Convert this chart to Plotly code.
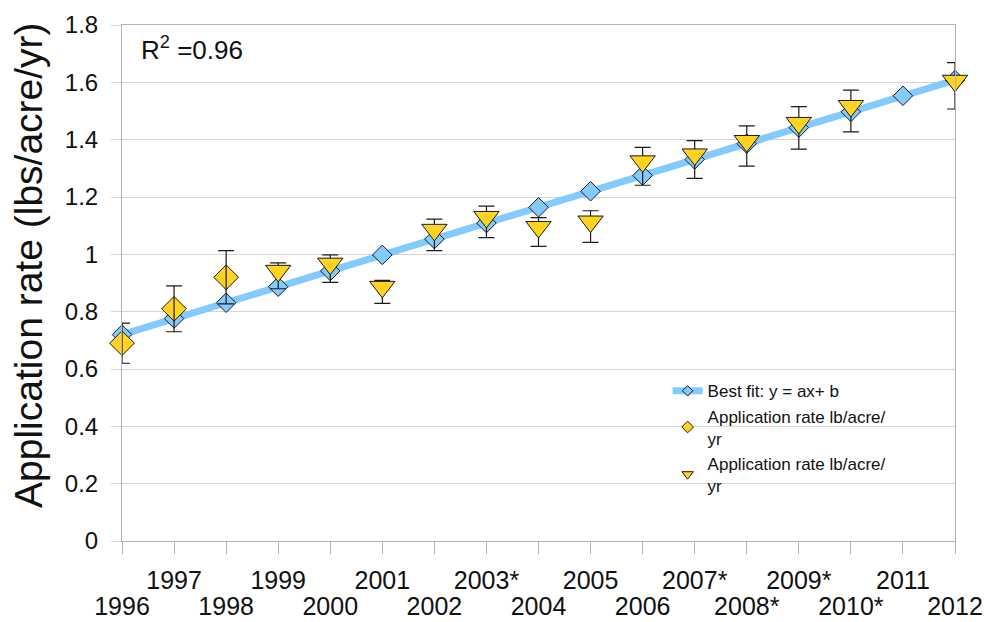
import plotly.graph_objects as go

# ---- data -------------------------------------------------------------
years = list(range(1996, 2013))
year_labels = ["1996", "1997", "1998", "1999", "2000", "2001", "2002", "2003*",
               "2004", "2005", "2006", "2007*", "2008*", "2009*", "2010*",
               "2011", "2012"]

# linear best fit (y = ax + b) evaluated at each year
best_fit = [0.720, 0.776, 0.831, 0.887, 0.942, 0.998, 1.053, 1.109, 1.164,
            1.220, 1.275, 1.331, 1.386, 1.442, 1.497, 1.553, 1.608]

# application rate, first survey method (diamonds)
diam_years = [1996, 1997, 1998]
diam_rate = [0.69, 0.81, 0.92]
diam_err = [0.07, 0.08, 0.093]

# application rate, second survey method (triangles)
tri_years = [1999, 2000, 2001, 2002, 2003, 2004, 2005, 2006, 2007, 2008,
             2009, 2010, 2012]
tri_rate = [0.925, 0.950, 0.869, 1.068, 1.113, 1.078, 1.097, 1.307, 1.331,
            1.378, 1.441, 1.500, 1.588]
tri_err = [0.045, 0.048, 0.040, 0.055, 0.055, 0.050, 0.055, 0.066, 0.066,
           0.070, 0.074, 0.073, 0.081]

r_squared = 0.96
legend_fit = "Best fit: y = ax+ b"
legend_rate = "Application rate lb/acre/<br>yr"

# ---- styling ----------------------------------------------------------
FONT = "Liberation Sans, Arial, sans-serif"
BLUE = "#83CAFF"
GOLD = "#FFD320"
EDGE = "#1a1a1a"
AXIS = "#b3b3b3"
GRID = "#d4d4d4"
TXT = "#111111"

Y_RANGE = [0, 1.8]
PLOT_H = 622 - 25 - 81
# plotly anchors triangle-down on its centroid; shift the glyph up ~5 px so
# its bounding box is centred on the value, like the error bar
tri_shift = 5 * (Y_RANGE[1] - Y_RANGE[0]) / PLOT_H

fig = go.Figure()

fig.add_trace(go.Scatter(
    x=years, y=best_fit, mode="lines+markers", showlegend=False,
    line=dict(color=BLUE, width=7),
    marker=dict(symbol="diamond", size=15, color=BLUE,
                line=dict(color=EDGE, width=1)),
    cliponaxis=False,
))

fig.add_trace(go.Scatter(
    x=diam_years, y=diam_rate, mode="markers", showlegend=False,
    marker=dict(symbol="diamond", size=19, color=GOLD,
                line=dict(color=EDGE, width=1)),
    cliponaxis=False,
))

fig.add_trace(go.Scatter(
    x=tri_years, y=tri_rate, mode="markers", showlegend=False, yaxis="y2",
    marker=dict(symbol="triangle-down", size=22, color=GOLD,
                line=dict(color=EDGE, width=1)),
    cliponaxis=False,
))

# error bars drawn last so the whiskers sit on top of the markers
for xs, ys, es in [(diam_years, diam_rate, diam_err),
                   (tri_years, tri_rate, tri_err)]:
    fig.add_trace(go.Scatter(
        x=xs, y=ys, mode="markers", showlegend=False, hoverinfo="skip",
        marker=dict(size=1, opacity=0),
        error_y=dict(type="data", array=es, visible=True,
                     color=EDGE, thickness=1.2, width=8),
        cliponaxis=False,
    ))

# legend entries with small symbols
fig.add_trace(go.Scatter(
    x=[None], y=[None], mode="lines+markers", name=legend_fit,
    line=dict(color=BLUE, width=7),
    marker=dict(symbol="diamond", size=8, color=BLUE,
                line=dict(color=EDGE, width=1)),
))
fig.add_trace(go.Scatter(
    x=[None], y=[None], mode="markers", name=legend_rate,
    marker=dict(symbol="diamond", size=9, color=GOLD,
                line=dict(color=EDGE, width=1)),
))
fig.add_trace(go.Scatter(
    x=[None], y=[None], mode="markers", name=legend_rate,
    marker=dict(symbol="triangle-down", size=10, color=GOLD,
                line=dict(color=EDGE, width=1)),
))

# a dummy trace so the second label axis is rendered
fig.add_trace(go.Scatter(x=[years[0]], y=[None], xaxis="x2",
                         showlegend=False, hoverinfo="skip"))

# staggered year labels: odd positions on the first row, even on the second
row1 = [t if i % 2 == 1 else "" for i, t in enumerate(year_labels)]
row2 = [t if i % 2 == 0 else "" for i, t in enumerate(year_labels)]

fig.update_layout(
    width=991, height=622,
    margin=dict(l=122, r=36, t=25, b=81),
    paper_bgcolor="white", plot_bgcolor="white",
    font=dict(family=FONT, color=TXT),
    showlegend=True,
    legend=dict(
        x=0.655, y=0.325, xanchor="left", yanchor="top",
        bgcolor="rgba(0,0,0,0)", borderwidth=0,
        font=dict(size=17, family=FONT, color=TXT),
        itemsizing="trace", tracegroupgap=0,
    ),
    xaxis=dict(
        range=[1996, 2012], showgrid=False, zeroline=False, automargin=False,
        showline=True, linecolor=AXIS, linewidth=1, mirror=True,
        ticks="outside", ticklen=12, tickcolor=AXIS,
        tickvals=years, ticktext=row1,
        tickfont=dict(size=25, family=FONT, color=TXT),
        ticklabelstandoff=5,
    ),
    xaxis2=dict(
        range=[1996, 2012], overlaying="x", side="bottom", anchor="y",
        showgrid=False, zeroline=False, showline=False, ticks="",
        automargin=False,
        tickvals=years, ticktext=row2,
        tickfont=dict(size=25, family=FONT, color=TXT),
        ticklabelstandoff=48,
    ),
    yaxis=dict(
        range=Y_RANGE, dtick=0.2, tick0=0, automargin=False,
        showgrid=True, gridcolor=GRID, gridwidth=1, zeroline=False,
        showline=True, linecolor=AXIS, linewidth=1, mirror=True,
        ticks="outside", ticklen=10, tickcolor=GRID,
        tickfont=dict(size=24, family=FONT, color=TXT),
        ticklabelstandoff=8,
    ),
    yaxis2=dict(
        range=[Y_RANGE[0] - tri_shift, Y_RANGE[1] - tri_shift],
        overlaying="y", visible=False, automargin=False,
    ),
    annotations=[
        dict(text="R<sup>2</sup> =" + f"{r_squared:.2f}",
             xref="paper", yref="paper", x=0.02, y=0.99,
             xanchor="left", yanchor="top", showarrow=False,
             font=dict(size=26, family=FONT, color=TXT)),
        dict(text="Application rate (lbs/acre/yr)",
             xref="paper", yref="paper", x=(29 - 122) / 833, y=0.535,
             xanchor="center", yanchor="middle", textangle=-90,
             showarrow=False,
             font=dict(size=39, family=FONT, color=TXT)),
    ],
)

fig.write_html("out.html")
